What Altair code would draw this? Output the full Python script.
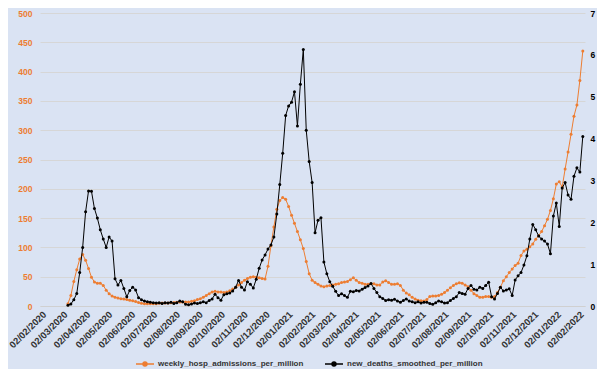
import altair as alt
import pandas as pd

START = "2020-03-10"
STEP = "4D"

hosp = [4, 18, 42, 62, 80, 88, 78, 64, 49, 41,
        39, 39, 35, 27, 21, 17, 15, 13.5, 12.5, 12,
        11, 10, 9, 7.5, 6, 4.5, 4, 4, 4, 4,
        4, 4.5, 5, 5, 5, 5.5, 6, 6.5, 7, 7,
        7, 7, 8, 9, 11, 12.5, 15, 18, 21, 24,
        25, 24, 24, 23, 24, 26, 29, 32, 36, 40,
        44, 47, 49, 50, 49, 48, 47, 46, 68, 103,
        135, 165, 180, 185, 182, 170, 155, 141, 127, 113,
        98, 76, 55, 44, 40, 37, 34, 33, 34, 35,
        36, 37, 38, 40, 41, 42, 45, 48, 44, 40,
        39, 37, 37, 38, 38, 36, 36, 41, 43, 40,
        37, 37, 38, 35, 27, 22, 19, 15, 12, 10,
        9, 8.5, 11, 16, 17, 17, 18, 20, 23, 27,
        31, 35, 38, 39.5, 39, 36, 33, 27, 21, 18,
        15, 15, 16, 16, 15, 16, 23, 32, 43, 50,
        57, 63, 69, 73, 86, 94, 97, 101, 106, 114,
        120, 127, 137, 148, 163, 183, 208, 212, 203, 234,
        263, 293, 324, 343, 385, 435]

deaths = [0.02, 0.05, 0.15, 0.30, 0.80, 1.40, 2.25, 2.75, 2.74, 2.33,
          2.10, 1.82, 1.60, 1.40, 1.65, 1.55, 0.65, 0.50, 0.61, 0.42,
          0.22, 0.37, 0.45, 0.38, 0.20, 0.15, 0.12, 0.10, 0.09, 0.08,
          0.07, 0.08, 0.06, 0.08, 0.07, 0.09, 0.06, 0.08, 0.12, 0.10,
          0.04, 0.03, 0.05, 0.07, 0.06, 0.08, 0.10, 0.08, 0.13, 0.17,
          0.28, 0.20, 0.14, 0.27, 0.29, 0.31, 0.36, 0.45, 0.61, 0.45,
          0.38, 0.58, 0.52, 0.43, 0.64, 0.90, 1.10, 1.22, 1.36, 1.46,
          1.65, 2.20, 2.90, 3.65, 4.55, 4.78, 4.87, 5.12, 4.30, 5.30,
          6.13, 4.20, 3.45, 2.95, 1.75, 2.05, 2.11, 1.05, 0.77, 0.58,
          0.47, 0.35, 0.25, 0.29, 0.25, 0.21, 0.35, 0.34, 0.37, 0.36,
          0.40, 0.44, 0.48, 0.54, 0.42, 0.32, 0.22, 0.18, 0.13, 0.15,
          0.14, 0.16, 0.12, 0.09, 0.13, 0.17, 0.12, 0.10, 0.08, 0.10,
          0.07, 0.09, 0.09, 0.06, 0.04, 0.08, 0.12, 0.10, 0.07, 0.08,
          0.13, 0.18, 0.22, 0.32, 0.30, 0.28, 0.42, 0.49, 0.40, 0.38,
          0.45, 0.42, 0.49, 0.57, 0.22, 0.17, 0.30, 0.45, 0.36, 0.38,
          0.41, 0.25, 0.62, 0.72, 0.80, 0.98, 1.20, 1.60, 1.95, 1.82,
          1.67, 1.60, 1.55, 1.48, 1.25, 2.15, 2.46, 1.90, 2.82, 2.95,
          2.65, 2.55, 3.10, 3.30, 3.20, 4.05]

S1 = "weekly_hosp_admissions_per_million"
S2 = "new_deaths_smoothed_per_million"

left_ticks = [0, 50, 100, 150, 200, 250, 300, 350, 400, 450, 500]
right_ticks = [0, 1, 2, 3, 4, 5, 6, 7]
tick_months = [(2020, m) for m in range(2, 13)] + [(2021, m) for m in range(1, 13)] + [(2022, m) for m in range(1, 3)]

dates = pd.date_range(START, periods=len(hosp), freq=STEP).strftime("%Y-%m-%d")
df = pd.concat([
    pd.DataFrame({"date": dates, "value": hosp, "series": S1}),
    pd.DataFrame({"date": dates, "value": deaths, "series": S2}),
])

FONT = "Liberation Sans"
ORANGE = "#ED7D31"
TEXT = "#333333"

x = alt.X(
    "date:T",
    scale=alt.Scale(type="utc",
                    domain=[alt.DateTime(year=2020, month=2, date=1, utc=True),
                            alt.DateTime(year=2022, month=2, date=11, utc=True)]),
    axis=alt.Axis(
        title=None,
        values=[alt.DateTime(year=y, month=m, date=2, utc=True) for y, m in tick_months],
        labelExpr="utcFormat(datum.value, '%d/%m/%Y')",
        labelAngle=-45, labelAlign="right", labelBaseline="top",
        labelFont=FONT, labelFontSize=9.5, labelFontWeight="bold", labelColor=TEXT,
        labelPadding=3, ticks=False, grid=False,
        domainColor="#d0d0d0", labelOverlap=False, labelBound=False, labelFlush=False,
    ),
)

color = alt.Color(
    "series:N",
    scale=alt.Scale(domain=[S1, S2], range=[ORANGE, "#000000"]),
    legend=alt.Legend(
        title=None, orient="none", direction="horizontal", columns=2,
        legendX=95, legendY=341, columnPadding=18,
        symbolType="M-1,0L1,0M0.22,0A0.22,0.22,0,1,1,-0.22,0A0.22,0.22,0,1,1,0.22,0",
        symbolSize=324, symbolStrokeWidth=1.5,
        labelFont=FONT, labelFontSize=8, labelFontWeight="bold", labelColor=TEXT,
        labelOffset=3, labelLimit=0,
    ),
)

base = alt.Chart(df).encode(x=x, color=color)

left = base.transform_filter(alt.datum.series == S1).mark_line(
    strokeWidth=1, point=alt.OverlayMarkDef(size=9, filled=True, color=ORANGE)
).encode(
    y=alt.Y("value:Q", scale=alt.Scale(domain=[0, 500], nice=False),
            axis=alt.Axis(title=None, values=left_ticks, orient="left",
                          labelColor=ORANGE, labelFont=FONT, labelFontSize=8.5, labelFontWeight="bold",
                          labelPadding=8, ticks=False, domain=False,
                          grid=True, gridColor="#d6d6d6", gridWidth=1))
)

right = base.transform_filter(alt.datum.series == S2).mark_line(
    strokeWidth=1, point=alt.OverlayMarkDef(size=9, filled=True, color="#000000")
).encode(
    y=alt.Y("value:Q", scale=alt.Scale(domain=[0, 7], nice=False),
            axis=alt.Axis(title=None, values=right_ticks, orient="right",
                          labelColor="#000000", labelFont=FONT, labelFontSize=8.5, labelFontWeight="bold",
                          labelPadding=5, ticks=False, domain=False, grid=False))
)

chart = alt.layer(left, right).resolve_scale(y="independent").properties(
    width=545, height=293,
    padding={"left": 32, "top": 5, "right": 12, "bottom": 63},
    autosize=alt.AutoSizeParams(type="none"),
    background="#DAE3F3",
).configure_view(stroke=None)

chart.save("out.html", embed_options={"renderer": "svg", "actions": False})
